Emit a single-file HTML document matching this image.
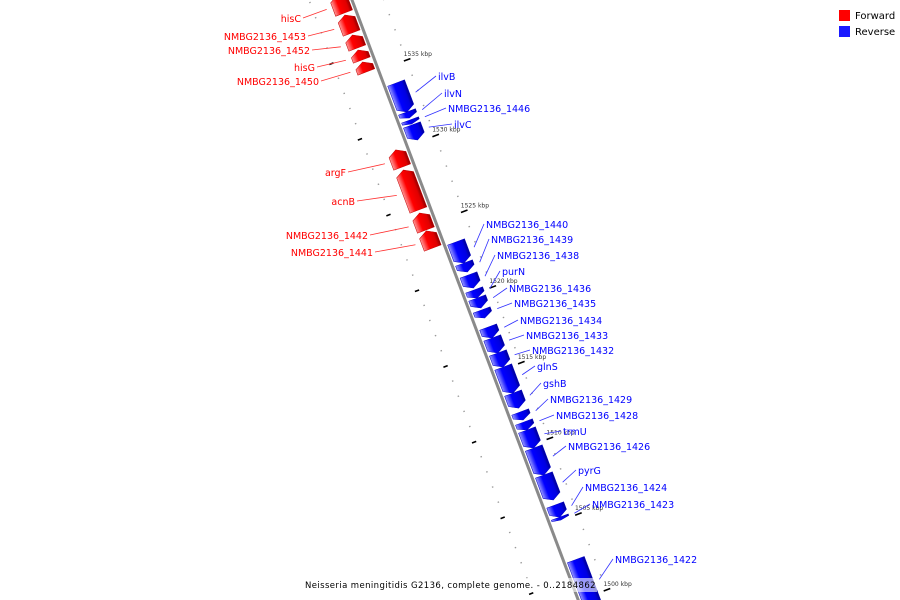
<!DOCTYPE html>
<html><head><meta charset="utf-8"><style>
html,body{margin:0;padding:0;background:#fff;width:900px;height:600px;overflow:hidden}
svg{display:block;font-family:"DejaVu Sans","Liberation Sans",sans-serif}
</style></head><body>
<svg id="map" width="900" height="600" viewBox="0 0 900 600" xmlns="http://www.w3.org/2000/svg">
<defs>
<linearGradient id="gf" gradientUnits="userSpaceOnUse" x1="-21" y1="0" x2="-3" y2="0">
<stop offset="0" stop-color="#ff9a9a"/><stop offset="0.35" stop-color="#ff0000"/><stop offset="0.8" stop-color="#e00000"/><stop offset="1" stop-color="#900000"/></linearGradient>
<linearGradient id="gr" gradientUnits="userSpaceOnUse" x1="3" y1="0" x2="21" y2="0">
<stop offset="0" stop-color="#9a9aff"/><stop offset="0.35" stop-color="#0000ff"/><stop offset="0.8" stop-color="#0000e0"/><stop offset="1" stop-color="#000090"/></linearGradient>
</defs>
<g id="ring" transform="translate(352,0) rotate(-20.66)"></g>
<g id="labels"></g>
<g>
<rect x="839" y="10" width="11" height="11" fill="#ff0000"/>
<text x="855" y="19" font-size="10" fill="#000">Forward</text>
<rect x="839" y="26" width="11" height="11" fill="#1a1aff"/>
<text x="855" y="35" font-size="10" fill="#000">Reverse</text>
</g>
<rect x="303" y="578" width="294" height="14" fill="#fff" fill-opacity="0.6"/>
<text x="305" y="588" font-size="8.5" letter-spacing="0.4" fill="#000">Neisseria meningitidis G2136, complete genome. - 0..2184862</text>
</svg>
<script>
const geneNames = ["hisC","NMBG2136_1453","NMBG2136_1452","hisG","NMBG2136_1450","argF","acnB","NMBG2136_1442","NMBG2136_1441",
"ilvB","ilvN","NMBG2136_1446","ilvC","NMBG2136_1440","NMBG2136_1439","NMBG2136_1438","purN","NMBG2136_1436","NMBG2136_1435","NMBG2136_1434","NMBG2136_1433","NMBG2136_1432","glnS","gshB","NMBG2136_1429","NMBG2136_1428","trmU","NMBG2136_1426","pyrG","NMBG2136_1424","NMBG2136_1423","NMBG2136_1422"];
const geneStrand = [1,1,1,1,1,1,1,1,1,-1,-1,-1,-1,-1,-1,-1,-1,-1,-1,-1,-1,-1,-1,-1,-1,-1,-1,-1,-1,-1,-1,-1];
const geneStartKbp = [1538.10,1536.78,1535.79,1535.00,1534.21,1527.93,1525.09,1523.77,1522.58,
1531.57,1531.17,1530.77,1529.72,1521.59,1521.00,1519.94,1519.28,1518.62,1517.96,1516.64,1515.65,1514.72,1513.00,1512.01,1511.22,1510.56,1509.37,1507.59,1505.94,1504.81,1504.62,1498.70];
const geneEndKbp = [1539.29,1537.97,1536.65,1535.66,1534.87,1529.06,1527.73,1524.89,1523.71,
1533.48,1531.57,1531.04,1530.71,1522.98,1521.59,1520.80,1519.81,1519.28,1518.49,1517.36,1516.64,1515.65,1514.72,1513.00,1511.75,1511.09,1510.56,1509.37,1507.59,1505.61,1504.81,1502.00];
const labelX = [301,306,310,315,319,346,355,368,373,438,444,448,454,486,491,497,502,509,514,520,526,532,537,543,550,556,563,568,578,585,592,615];
const labelY = [18,36,50,67,81,172,201,235,252,76,93,108,124,224,239,255,271,288,303,320,335,350,366,383,399,415,431,446,470,487,504,559];
const tickLabels = [1535,1530,1525,1520,1515,1510,1505,1500];

const NS="http://www.w3.org/2000/svg";
const ring=document.getElementById('ring'), labs=document.getElementById('labels');
const ANG=-20.66*Math.PI/180, CA=Math.cos(ANG), SA=Math.sin(ANG);
function pageY(k){return 60+(1535-k)*15.14;}
// along-ring coordinate so that a point at radial offset r lands at page y of kbp k
function sAt(k,r){return (pageY(k)-r*SA)/CA;}
function toPage(r,s){return [352+r*CA - s*SA, r*SA + s*CA];}
function mk(tag,attrs,parent){const e=document.createElementNS(NS,tag);for(const a in attrs)e.setAttribute(a,attrs[a]);parent.appendChild(e);return e;}

const bb=mk('line',{x1:0,y1:-20,x2:0,y2:700,stroke:'#8a8a8a','stroke-width':3},ring);



for(let k=1497;k<=1541;k++){
  const major=k%5===0;
  const s=sAt(k,30);
  const t=mk('line',{x1:major?27:29,y1:s,x2:major?34:30.5,y2:s,stroke:major?'#000':'#999','stroke-width':major?1.6:1.3},ring);
  
  
  const s2=sAt(k-0.2,-40);
  const t2=mk('line',{x1:major?-44:-41,y1:s2,x2:-39.5,y2:s2,stroke:major?'#000':'#999','stroke-width':major?1.6:1.3},ring);
  
  
}
tickLabels.forEach(k=>{
  const p=toPage(30,sAt(k,30));
  const t=mk('text',{x:p[0]-3,y:p[1]-4,'font-size':6,fill:'#333'},labs);
  t.textContent=k+' kbp';
  
  
});

geneNames.forEach((n,i)=>{
  const f=geneStrand[i]>0;
  const rm=f?-12:12;
  const sa=sAt(geneEndKbp[i],rm), sb=sAt(geneStartKbp[i],rm);
  const r0=f?-21:3, r1=f?-3:21;
  const len=sb-sa, ah=Math.min(5,len*0.5);
  let pts;
  if(f){ pts=[[r0,sa+ah],[(r0+r1)/2,sa],[r1,sa+ah],[r1,sb],[r0,sb]]; }
  else { pts=[[r0,sa],[r1,sa],[r1,sb-ah],[(r0+r1)/2,sb],[r0,sb-ah]]; }
  const g=mk('polygon',{points:pts.map(p=>p.join(',')).join(' '),fill:f?'url(#gf)':'url(#gr)',stroke:f?'#c00000':'#0000c0','stroke-width':0.5},ring);
  
  
  const mid=(sa+sb)/2;
  const p=toPage(f?-27:27,mid);
  const lx=labelX[i], ly=labelY[i];
  const ln=mk('line',{x1:f?lx+2:lx-2,y1:ly,x2:p[0],y2:p[1],stroke:f?'#ff3030':'#3030ff','stroke-width':0.8},labs);
  
  
  const t=mk('text',{x:lx,y:ly+4,'font-size':9.5,fill:f?'#ff0000':'#0000ff','text-anchor':f?'end':'start'},labs);
  t.textContent=n;
  
  
});
</script>
</body></html>
